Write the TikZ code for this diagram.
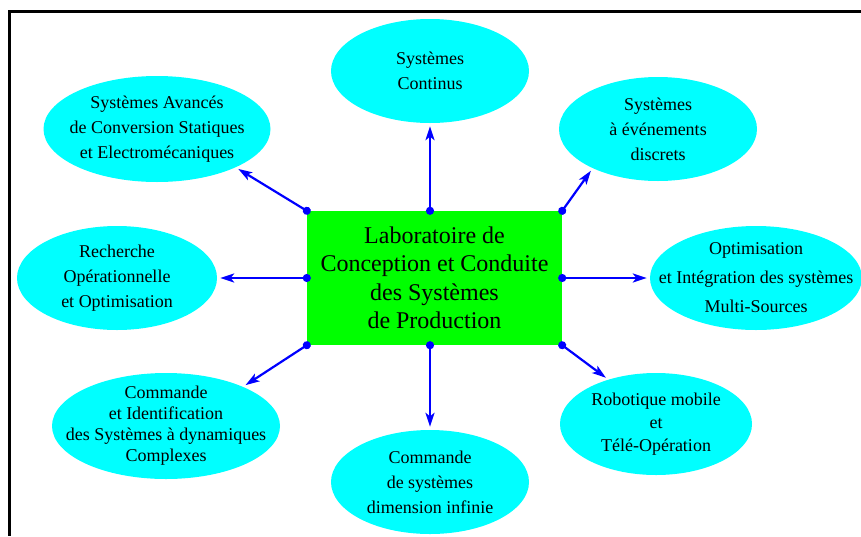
\documentclass[tikz,border=0pt]{standalone}
\usepackage{fontspec}
\setmainfont{Liberation Serif}
\usetikzlibrary{arrows.meta,shapes.geometric}
\definecolor{teamcyan}{RGB}{0,255,255}
\definecolor{labgreen}{RGB}{0,255,0}
\definecolor{linkblue}{RGB}{0,0,255}

\begin{document}
\begin{tikzpicture}[
    x=1pt, y=-1pt,
    teambox/.style={ellipse, fill=teamcyan, inner sep=-25pt, align=center, font=\fontsize{18}{25}\selectfont},
    labbox/.style={rectangle, fill=labgreen, inner sep=0, minimum width=255, minimum height=134, align=center, font=\fontsize{24}{28.5}\selectfont},
    link/.style={draw=linkblue, line width=2.2pt, shorten <=-4pt, shorten >=3pt, {Circle[length=8pt]}-{Stealth[length=14pt,width=9pt,inset=3.5pt]}}]
\useasboundingbox (0,0) rectangle (861,536);
\path[draw, line width=2.5pt] (861,11.5) -- (9.5,11.5) -- (9.5,536);

\node[labbox] (lab) at (434.5,278) {Laboratoire de\\Conception et Conduite\\des Systèmes\\de Production};

\node[teambox, minimum width=198, minimum height=104] (cont) at (430,71) {Systèmes\\Continus};
\node[teambox, minimum width=227, minimum height=106] (sac) at (157,129) {Systèmes Avancés\\de Conversion Statiques\\et Electromécaniques};
\node[teambox, minimum width=198, minimum height=104] (sed) at (658,129) {Systèmes\\à événements\\discrets};
\node[teambox, minimum width=200, minimum height=104] (rop) at (117,278) {Recherche\\Opérationnelle\\et Optimisation};
\node[teambox, minimum width=212, minimum height=104, font=\fontsize{18}{29}\selectfont] (ois) at (756,278) {Optimisation\\et Intégration des systèmes\\Multi-Sources};
\node[teambox, minimum width=228, minimum height=106, font=\fontsize{18}{21}\selectfont] (cid) at (166,426) {Commande\\et Identification\\des Systèmes à dynamiques\\Complexes};
\node[teambox, minimum width=198, minimum height=104] (cdi) at (430,482) {Commande\\de systèmes\\dimension infinie};
\node[teambox, minimum width=192, minimum height=102, font=\fontsize{18}{23}\selectfont] (rob) at (656,424) {Robotique mobile\\et\\Télé-Opération};

\path[link] (lab.north -| cont.south) -- (cont.south);
\path[link] (lab.north west) -- (sac.334);
\path[link] (lab.north east) -- (sed.211);
\path[link] (lab.west) -- (rop.east);
\path[link] (lab.east) -- (ois.west);
\path[link] (lab.south west) -- (cid.27);
\path[link] (lab.south -| cdi.north) -- (cdi.north);
\path[link] (lab.south east) -- (rob.137);

\end{tikzpicture}
\end{document}
